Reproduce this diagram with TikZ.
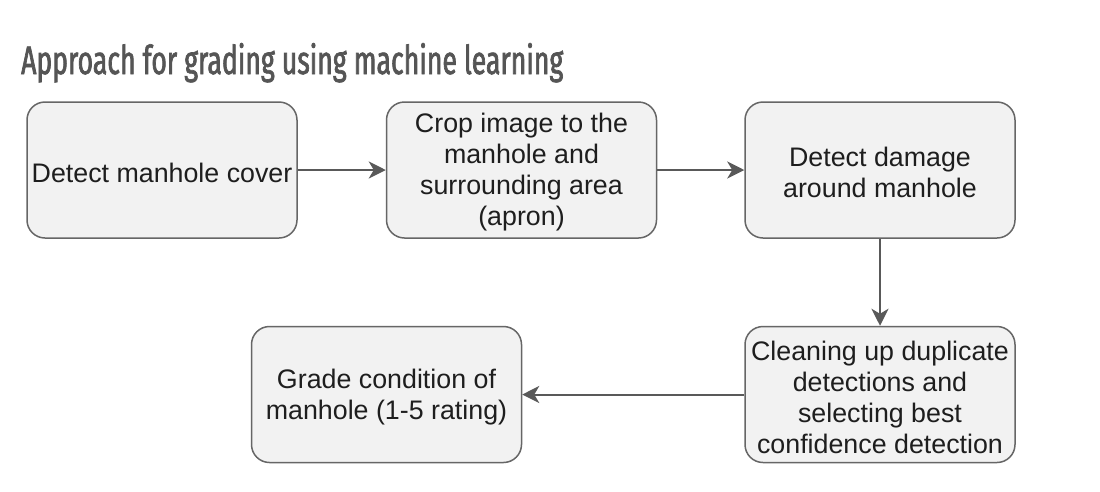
\documentclass[tikz,border=0pt]{standalone}
\usepackage{fontspec}
\setmainfont{Liberation Sans}
\newfontfamily\titlefont[FakeStretch=0.62,FakeBold=1.6]{Fira Sans}
\usetikzlibrary{arrows.meta}
\definecolor{boxfill}{HTML}{F2F2F2}
\definecolor{boxline}{HTML}{666666}
\definecolor{arrowcol}{HTML}{595959}
\definecolor{textcol}{HTML}{1E1E1E}
\definecolor{titlecol}{HTML}{555555}
\tikzset{
  stepbox/.style={draw=boxline, fill=boxfill, line width=1.5pt, rounded corners=18pt,
    minimum width=270pt, minimum height=136pt, inner sep=0pt},
  steptext/.style={inner sep=0pt, align=center, text=textcol,
    font=\fontsize{26.8}{31}\selectfont, yshift=-2.5pt},
  flow/.style={draw=arrowcol, line width=2pt,
    -{Stealth[length=17pt,width=17pt,inset=5pt]}}
}
\begin{document}
\begin{tikzpicture}[x=1pt,y=-1pt]
\useasboundingbox (0,0) rectangle (1100,491);
\fill[white] (0,0) rectangle (1100,491);
\node[anchor=base west, inner sep=0pt, text=titlecol] (title) at (21,74)
  {\resizebox{542pt}{31pt}{\titlefont\fontsize{40}{48}\selectfont Approach for grading using machine learning}};
\node[stepbox, label={[steptext]center:Detect manhole cover}] (detect) at (162,170) {};
\node[stepbox, label={[steptext]center:{Crop image to the\\manhole and\\surrounding area\\(apron)}}] (crop) at (521.5,170) {};
\node[stepbox, label={[steptext]center:{Detect damage\\around manhole}}] (damage) at (880,170) {};
\node[stepbox, label={[steptext]center:{Cleaning up duplicate\\detections and\\selecting best\\confidence detection}}] (clean) at (880,394.5) {};
\node[stepbox, label={[steptext]center:{Grade condition of\\manhole (1-5 rating)}}] (grade) at (386.5,394.5) {};
\draw[flow] (detect) -- (crop);
\draw[flow] (crop) -- (damage);
\draw[flow] (damage) -- (clean);
\draw[flow] (clean) -- (grade);
\end{tikzpicture}
\end{document}
